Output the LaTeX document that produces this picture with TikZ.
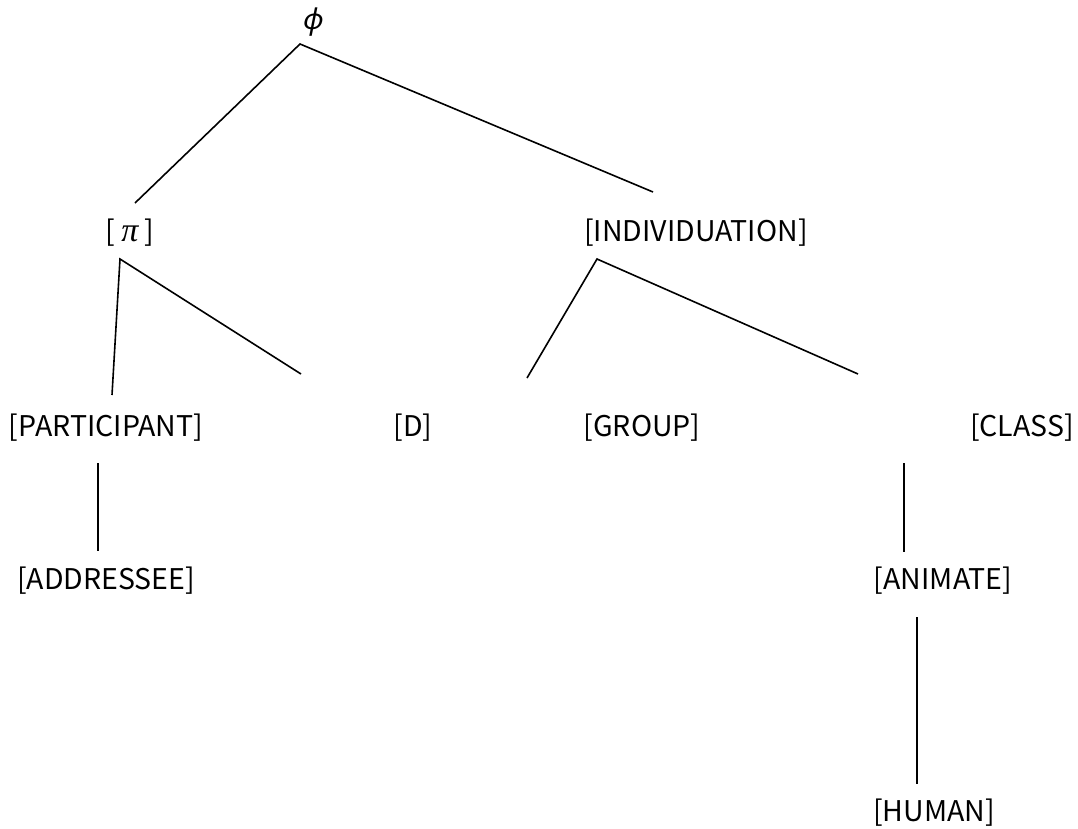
\documentclass[tikz,border=0pt]{standalone}
\usepackage{fontspec}
\setmainfont{Noto Sans CJK JP}
\newfontfamily\grk[FakeSlant=0.2]{Noto Sans}
\newfontfamily\grs{Liberation Serif}
\begin{document}
\begin{tikzpicture}[x=1pt,y=-1pt,
  lbl/.style={inner sep=0pt, font=\fontsize{28.5}{32}\selectfont},
  edge/.style={line width=1.6pt}]
\useasboundingbox (0,0) rectangle (1078,828);
% labels
\node[lbl] (root) at (312,22) {\grk ϕ};
\node[lbl] (pi) at (130,233) {[\hspace{6pt}{\grs\itshape\fontsize{34}{32}\selectfont π}\hspace{6pt}]};
\node[lbl] (ind) at (696,233) {[INDIVIDUATION]};
\node[lbl] (part) at (106,428) {[PARTICIPANT]};
\node[lbl] (d) at (413,428) {[D]};
\node[lbl] (grp) at (642,428) {[GROUP]};
\node[lbl] (cls) at (1022,428) {[CLASS]};
\node[lbl] (addr) at (106,581) {[ADDRESSEE]};
\node[lbl] (anim) at (943,581) {[ANIMATE]};
\node[lbl] (hum) at (934,813) {[HUMAN]};
% branch end points
\coordinate (r0) at (300,44);
\coordinate (r1) at (135,203);
\coordinate (r2) at (653,192);
\coordinate (p0) at (120,259);
\coordinate (p1) at (112,395);
\coordinate (p2) at (301,374);
\coordinate (i0) at (597,259);
\coordinate (i1) at (527,378);
\coordinate (i2) at (858,374);
\coordinate (a0) at (98,463);
\coordinate (a1) at (98,551);
\coordinate (c0) at (904,463);
\coordinate (c1) at (904,552);
\coordinate (h0) at (917,617);
\coordinate (h1) at (917,784);
% branches
\draw[edge] (r1) -- (r0) -- (r2);
\draw[edge] (p1) -- (p0) -- (p2);
\draw[edge] (i1) -- (i0) -- (i2);
\draw[edge] (a0) -- (a1);
\draw[edge] (c0) -- (c1);
\draw[edge] (h0) -- (h1);
\end{tikzpicture}
\end{document}
